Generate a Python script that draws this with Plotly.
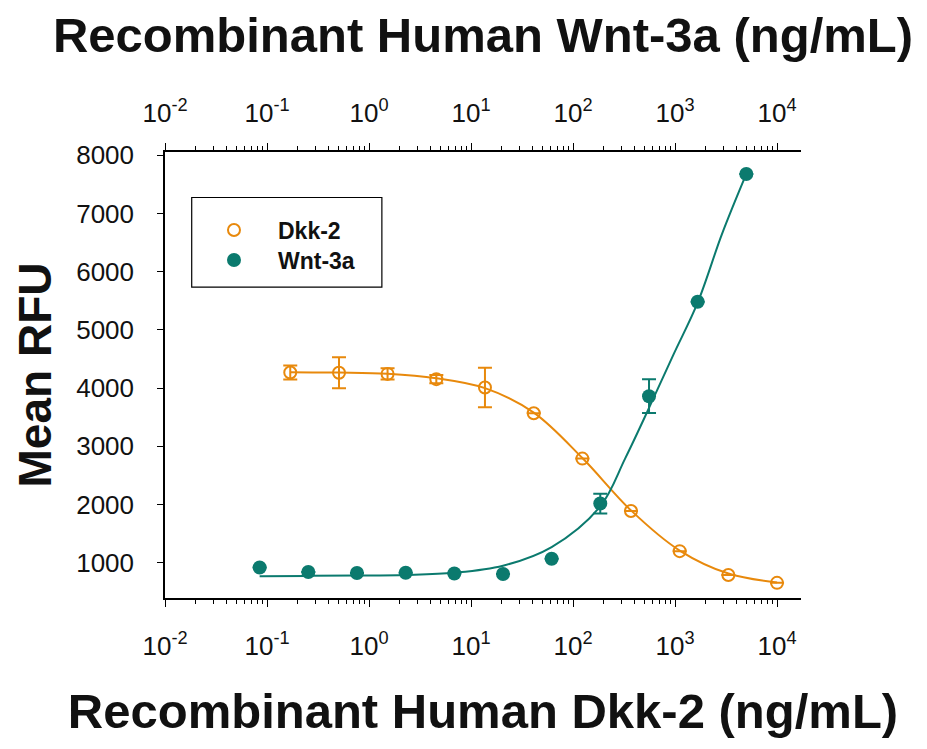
import plotly.graph_objects as go

# ---- data ----
dkk2_conc = [0.169, 0.508, 1.52, 4.57, 13.7, 41.2, 123.5, 370, 1111, 3333, 10000]
dkk2_rfu = [4270, 4265, 4245, 4155, 4010, 3570, 2790, 1890, 1200, 790, 655]
dkk2_err = [120, 265, 95, 70, 340, None, None, None, None, None, None]

wnt3a_conc = [0.0847, 0.254, 0.762, 2.29, 6.86, 20.6, 61.7, 185, 556, 1667, 5000]
wnt3a_rfu = [918, 842, 825, 830, 815, 808, 1070, 2018, 3862, 5485, 7680]
wnt3a_err = [None, None, None, None, None, None, None, 170, 290, None, None]

# fitted curves
dkk2_fit_conc = [0.169, 0.508, 1.52, 4.57, 13.7, 41.2, 123.5, 370, 1111, 3333, 10000]
dkk2_fit_rfu = [4275, 4268, 4248, 4170, 4000, 3580, 2800, 1900, 1210, 815, 662]

wnt3a_fit_conc = [0.0847, 0.254, 0.762, 2.29, 6.86, 20.6, 61.7, 185, 324, 556, 955, 1667, 2890, 5000]
wnt3a_fit_rfu = [770, 775, 780, 792, 830, 950, 1270, 1970, 2790, 3660, 4560, 5470, 6650, 7680]

x_tickvals = [0.01, 0.1, 1, 10, 100, 1000, 10000]
x_ticktext = ["10<sup>-2</sup>", "10<sup>-1</sup>", "10<sup>0</sup>", "10<sup>1</sup>",
              "10<sup>2</sup>", "10<sup>3</sup>", "10<sup>4</sup>"]
y_tickvals = [1000, 2000, 3000, 4000, 5000, 6000, 7000, 8000]

ORANGE = "#e8890c"
TEAL = "#0b7a6e"
TICKFONT = dict(family="Liberation Sans, Arial, sans-serif", size=26, color="#111")
TITLEFONT = dict(family="Liberation Sans, Arial, sans-serif", size=49, color="#111")
LEGFONT = dict(family="Liberation Sans, Arial, sans-serif", size=23, color="#111")

fig = go.Figure()

fig.add_trace(go.Scatter(x=dkk2_fit_conc, y=dkk2_fit_rfu, mode="lines",
                         line=dict(color=ORANGE, width=2, shape="spline"),
                         showlegend=False, hoverinfo="skip"))
fig.add_trace(go.Scatter(x=wnt3a_fit_conc, y=wnt3a_fit_rfu, mode="lines",
                         line=dict(color=TEAL, width=2, shape="spline"),
                         showlegend=False, hoverinfo="skip"))

fig.add_trace(go.Scatter(x=dkk2_conc, y=dkk2_rfu, mode="markers", name="<b>Dkk-2</b>",
                         legend="legend",
                         marker=dict(symbol="circle-open", size=12, color=ORANGE,
                                     line=dict(width=2, color=ORANGE)),
                         error_y=dict(type="data", array=dkk2_err, visible=True,
                                      color=ORANGE, thickness=2, width=7)))
fig.add_trace(go.Scatter(x=wnt3a_conc, y=wnt3a_rfu, mode="markers", name="<b>Wnt-3a</b>",
                         legend="legend2",
                         marker=dict(symbol="circle", size=14, color=TEAL),
                         error_y=dict(type="data", array=wnt3a_err, visible=True,
                                      color=TEAL, thickness=2, width=7)))

# invisible trace to activate top axis
fig.add_trace(go.Scatter(x=[0.01, 10000], y=[None, None], xaxis="x2", mode="markers",
                         showlegend=False, hoverinfo="skip"))

xrange = [-2, 4.235]
common_x = dict(type="log", range=xrange, tickvals=x_tickvals, ticktext=x_ticktext,
                showgrid=False, zeroline=False, showline=True, linecolor="black",
                linewidth=2, ticks="outside", ticklen=7, tickwidth=1, tickcolor="black",
                tickfont=TICKFONT,
                minor=dict(ticks="outside", ticklen=4, tickwidth=1, tickcolor="black",
                           dtick="D1", showgrid=False))

leg_common = dict(xanchor="left", yanchor="top", bgcolor="rgba(0,0,0,0)", borderwidth=0,
                  itemwidth=78, font=LEGFONT)

fig.update_layout(
    width=927, height=749,
    margin=dict(l=165, r=126, t=152, b=151),
    paper_bgcolor="white", plot_bgcolor="white",
    xaxis=dict(**common_x, side="bottom", ticklabelstandoff=17,
               title=dict(text="<b>Recombinant Human Dkk-2 (ng/mL)</b>", font=TITLEFONT,
                          standoff=33)),
    xaxis2=dict(**common_x, side="top", overlaying="x", anchor="y", ticklabelstandoff=11,
                title=dict(text="<b>Recombinant Human Wnt-3a (ng/mL)</b>", font=TITLEFONT,
                           standoff=27)),
    yaxis=dict(range=[395, 8057], tickvals=y_tickvals, showgrid=False, zeroline=False,
               showline=True, linecolor="black", linewidth=1.5, ticks="outside",
               ticklen=6, tickcolor="black", tickfont=TICKFONT, ticklabelstandoff=18,
               title=dict(text="<b>Mean RFU</b>",
                          font=dict(family="Liberation Sans, Arial, sans-serif", size=46,
                                    color="#111"), standoff=10)),
    legend=dict(x=0.0393, y=0.8733, **leg_common),
    legend2=dict(x=0.0393, y=0.8060, **leg_common),
    shapes=[dict(type="rect", xref="paper", yref="paper", x0=0.042, x1=0.341,
                 y0=0.697, y1=0.898, line=dict(color="black", width=1.2),
                 fillcolor="rgba(0,0,0,0)")],
)

fig.write_html("out.html")
